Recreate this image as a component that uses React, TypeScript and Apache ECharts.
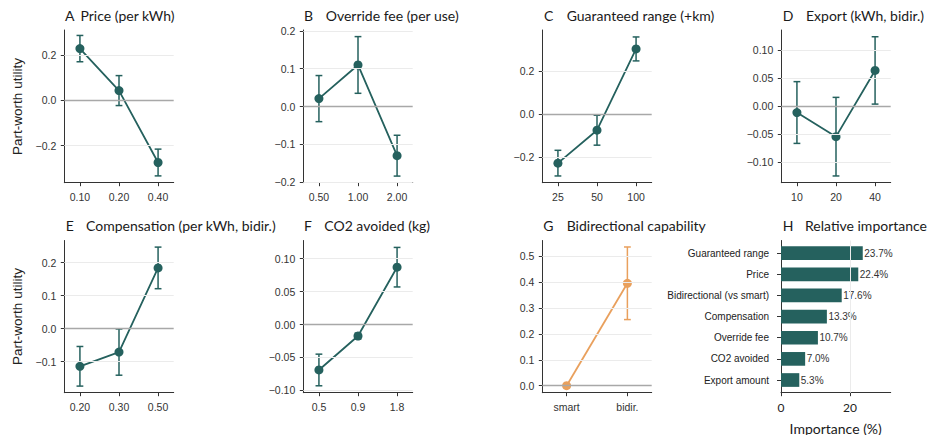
import React, { useEffect, useRef } from 'react';
import * as echarts from 'echarts';

// ---------- Data ----------
// A: Price (per kWh)
const priceCats = ['0.10', '0.20', '0.40'];
const priceVals = [0.228, 0.043, -0.274];
const priceErr = [0.058, 0.066, 0.059];
// B: Override fee (per use)
const feeCats = ['0.50', '1.00', '2.00'];
const feeVals = [0.021, 0.110, -0.130];
const feeErr = [0.061, 0.075, 0.054];
// C: Guaranteed range (+km)
const rangeCats = ['25', '50', '100'];
const rangeVals = [-0.229, -0.075, 0.305];
const rangeErr = [0.060, 0.070, 0.056];
// D: Export (kWh, bidir.)
const exportCats = ['10', '20', '40'];
const exportVals = [-0.011, -0.054, 0.064];
const exportErr = [0.055, 0.070, 0.060];
// E: Compensation (per kWh, bidir.)
const compCats = ['0.20', '0.30', '0.50'];
const compVals = [-0.114, -0.071, 0.184];
const compErr = [0.060, 0.070, 0.063];
// F: CO2 avoided (kg)
const co2Cats = ['0.5', '0.9', '1.8'];
const co2Vals = [-0.069, -0.0175, 0.087];
const co2Err = [0.024, 0.0045, 0.030];
// G: Bidirectional capability
const bidirCats = ['smart', 'bidir.'];
const bidirVals = [0.0, 0.395];
const bidirErr = [null, 0.14];
// H: Relative importance (%)
const importanceNames = ['Guaranteed range', 'Price', 'Bidirectional (vs smart)', 'Compensation', 'Override fee', 'CO2 avoided', 'Export amount'];
const importanceVals = [23.7, 22.4, 17.6, 13.3, 10.7, 7.0, 5.3];

// Y tick values per panel
const ticksA = [-0.2, 0, 0.2];
const ticksB = [-0.2, -0.1, 0, 0.1, 0.2];
const ticksC = [-0.2, 0, 0.2];
const ticksD = [-0.1, -0.05, 0, 0.05, 0.1];
const ticksE = [-0.1, 0, 0.1, 0.2];
const ticksF = [-0.1, -0.05, 0, 0.05, 0.1];
const ticksG = [0, 0.1, 0.2, 0.3, 0.4, 0.5];
const ticksHx = [0, 20];

// ---------- Styles / layout ----------
const TEAL = '#25615e';
const ORANGE = '#e9a05d';
const AXIS = '#333333';
const GRID = '#ebebeb';
const ZERO = '#a8a8a8';
const TICK_FONT = '"Liberation Sans", Arial, sans-serif';
const TITLE_FONT = 'Lato, "Open Sans", sans-serif';

const COLS = [64.3, 303.3, 542.3, 781.3];
const ROW_TOP = [30, 240.5];
const ROW_H = [152.7, 152.2];
const PW = 109.4;

const fmt = (dec: number) => (v: number) => {
  const s = Math.abs(v).toFixed(dec);
  return v < -1e-9 ? '\u2212' + s : s;
};

type Panel = {
  letter: string; title: string; cats: string[]; vals: number[]; err: (number | null)[];
  ylim: [number, number]; ticks: number[]; dec: number; col: number; row: number;
  color: string; letterX: number; titleX: number;
};

const panels: Panel[] = [
  { letter: 'A', title: 'Price (per kWh)', cats: priceCats, vals: priceVals, err: priceErr, ylim: [-0.363, 0.31], ticks: ticksA, dec: 1, col: 0, row: 0, color: TEAL, letterX: 65, titleX: 80.5 },
  { letter: 'B', title: 'Override fee (per use)', cats: feeCats, vals: feeVals, err: feeErr, ylim: [-0.2015, 0.2025], ticks: ticksB, dec: 1, col: 1, row: 0, color: TEAL, letterX: 304, titleX: 325.7 },
  { letter: 'C', title: 'Guaranteed range (+km)', cats: rangeCats, vals: rangeVals, err: rangeErr, ylim: [-0.3205, 0.3935], ticks: ticksC, dec: 1, col: 2, row: 0, color: TEAL, letterX: 544, titleX: 566.7 },
  { letter: 'D', title: 'Export (kWh, bidir.)', cats: exportCats, vals: exportVals, err: exportErr, ylim: [-0.136, 0.136], ticks: ticksD, dec: 2, col: 3, row: 0, color: TEAL, letterX: 782.7, titleX: 806 },
  { letter: 'E', title: 'Compensation (per kWh, bidir.)', cats: compCats, vals: compVals, err: compErr, ylim: [-0.194, 0.267], ticks: ticksE, dec: 1, col: 0, row: 1, color: TEAL, letterX: 65.7, titleX: 86 },
  { letter: 'F', title: 'CO2 avoided (kg)', cats: co2Cats, vals: co2Vals, err: co2Err, ylim: [-0.1035, 0.1275], ticks: ticksF, dec: 2, col: 1, row: 1, color: TEAL, letterX: 304, titleX: 324.3 },
  { letter: 'G', title: 'Bidirectional capability', cats: bidirCats, vals: bidirVals, err: bidirErr, ylim: [-0.027, 0.56], ticks: ticksG, dec: 1, col: 2, row: 1, color: ORANGE, letterX: 543.3, titleX: 566.7 },
];

function buildOption() {
  const grid: any[] = [];
  const xAxis: any[] = [];
  const yAxis: any[] = [];
  const series: any[] = [];
  const graphic: any[] = [];

  const tickLabel = { fontSize: 10.5, color: AXIS, fontFamily: TICK_FONT };

  panels.forEach((p, i) => {
    grid.push({ left: COLS[p.col], top: ROW_TOP[p.row], width: PW, height: ROW_H[p.row], containLabel: false, outerBoundsMode: 'none' });
    const xs = p.cats.map((_, k) => k);
    xAxis.push({
      gridIndex: i, type: 'value', min: -0.4, max: p.cats.length - 1 + 0.4,
      axisLine: { show: true, onZero: false, lineStyle: { color: AXIS, width: 1 } },
      axisTick: { show: true, customValues: xs, length: 3.5, lineStyle: { color: AXIS, width: 1 } },
      axisLabel: { show: true, customValues: xs, formatter: (v: number) => p.cats[Math.round(v)], margin: 9, ...tickLabel },
      splitLine: { show: false },
    });
    yAxis.push({
      gridIndex: i, type: 'value', min: p.ylim[0], max: p.ylim[1],
      axisLine: { show: true, onZero: false, lineStyle: { color: AXIS, width: 1 } },
      axisTick: { show: true, customValues: p.ticks, length: 3.5, lineStyle: { color: AXIS, width: 1 } },
      axisLabel: { show: true, customValues: p.ticks, formatter: fmt(p.dec), margin: 8, ...tickLabel },
      splitLine: { show: false },
    });
    const errData: number[][] = [];
    p.err.forEach((e, k) => { if (e != null) errData.push([k, p.vals[k], e]); });
    series.push({
      type: 'custom', xAxisIndex: i, yAxisIndex: i, z: 2, silent: true,
      encode: { x: 0, y: 1 },
      data: errData,
      renderItem: (params: any, api: any) => {
        const x = api.value(0), y = api.value(1), e = api.value(2);
        const t = api.coord([x, y + e]);
        const b = api.coord([x, y - e]);
        const hw = 3.4;
        const st = { stroke: p.color, lineWidth: 1.5 };
        return {
          type: 'group', children: [
            { type: 'line', shape: { x1: t[0], y1: t[1], x2: b[0], y2: b[1] }, style: st },
            { type: 'line', shape: { x1: t[0] - hw, y1: t[1], x2: t[0] + hw, y2: t[1] }, style: st },
            { type: 'line', shape: { x1: b[0] - hw, y1: b[1], x2: b[0] + hw, y2: b[1] }, style: st },
          ],
        };
      },
      markLine: {
        silent: true, symbol: 'none', label: { show: false }, animation: false,
        data: p.ticks.map((t) => ({ yAxis: t, lineStyle: { color: t === 0 ? ZERO : GRID, width: t === 0 ? 1.4 : 1, type: 'solid' } })),
      },
    });
    series.push({
      type: 'line', xAxisIndex: i, yAxisIndex: i, z: 3, silent: true,
      data: p.vals.map((v, k) => [k, v]),
      symbol: 'circle', symbolSize: 9, showSymbol: true,
      lineStyle: { color: p.color, width: 1.8 },
      itemStyle: { color: p.color },
    });
    const ty = p.row === 0 ? 15 : 225;
    graphic.push({ type: 'text', x: p.letterX, y: ty, style: { text: p.letter, fontSize: 14, fontFamily: TITLE_FONT, fill: '#1a1a1a', align: 'left', verticalAlign: 'middle' } });
    graphic.push({ type: 'text', x: p.titleX, y: ty, style: { text: p.title, fontSize: 14, fontFamily: TITLE_FONT, fill: '#1a1a1a', align: 'left', verticalAlign: 'middle' } });
  });

  // Panel H
  const hi = panels.length;
  grid.push({ left: 781, top: ROW_TOP[1], width: 109.7, height: ROW_H[1], containLabel: false, outerBoundsMode: 'none' });
  xAxis.push({
    gridIndex: hi, type: 'value', min: 0, max: 31.8,
    axisLine: { show: true, onZero: false, lineStyle: { color: AXIS, width: 1 } },
    axisTick: { show: true, customValues: ticksHx, length: 3.5, lineStyle: { color: AXIS } },
    axisLabel: { show: true, customValues: ticksHx, margin: 9, fontSize: 12, color: '#222', fontFamily: TITLE_FONT },
    splitLine: { show: false },
  });
  const idx = importanceNames.map((_, k) => k);
  yAxis.push({
    gridIndex: hi, type: 'value', min: -0.6, max: 6.6, inverse: true,
    axisLine: { show: true, onZero: false, lineStyle: { color: AXIS, width: 1 } },
    axisTick: { show: true, customValues: idx, length: 4, lineStyle: { color: AXIS } },
    axisLabel: { show: true, customValues: idx, formatter: (v: number) => importanceNames[Math.round(v)], margin: 12, fontSize: 10, color: '#222', fontFamily: TICK_FONT },
    splitLine: { show: false },
  });
  series.push({
    type: 'custom', xAxisIndex: hi, yAxisIndex: hi, z: 2, silent: true,
    encode: { x: 0, y: 1 },
    data: importanceVals.map((v, k) => [v, k]),
    renderItem: (params: any, api: any) => {
      const v = api.value(0), k = api.value(1);
      const p0 = api.coord([0, k]);
      const p1 = api.coord([v, k]);
      const h = 13.7;
      return {
        type: 'group', children: [
          { type: 'rect', shape: { x: p0[0], y: p0[1] - h / 2, width: p1[0] - p0[0], height: h }, style: { fill: TEAL } },
          { type: 'text', x: p1[0] + 1.5, y: p1[1], style: { text: v.toFixed(1) + '%', fontSize: 10, fontFamily: TICK_FONT, fill: '#333', align: 'left', verticalAlign: 'middle' } },
        ],
      };
    },
    markLine: {
      silent: true, symbol: 'none', label: { show: false }, animation: false,
      data: [{ xAxis: 20, lineStyle: { color: GRID, width: 1, type: 'solid' } }],
    },
  });
  graphic.push({ type: 'text', x: 782.7, y: 225, style: { text: 'H', fontSize: 14, fontFamily: TITLE_FONT, fill: '#1a1a1a', align: 'left', verticalAlign: 'middle' } });
  graphic.push({ type: 'text', x: 805, y: 225, style: { text: 'Relative importance', fontSize: 14, fontFamily: TITLE_FONT, fill: '#1a1a1a', align: 'left', verticalAlign: 'middle' } });
  graphic.push({ type: 'text', x: 835.7, y: 428, style: { text: 'Importance (%)', fontSize: 14, fontFamily: TITLE_FONT, fill: '#1a1a1a', align: 'center', verticalAlign: 'middle' } });

  // Y axis names
  [106.5, 316.5].forEach((cy) => {
    graphic.push({ type: 'text', x: 17, y: cy, rotation: Math.PI / 2, style: { text: 'Part-worth utility', fontSize: 13.5, fontFamily: TICK_FONT, fill: '#222', align: 'center', verticalAlign: 'middle' } });
  });

  return { animation: false, backgroundColor: '#ffffff', grid, xAxis, yAxis, series, graphic };
}

export default function App() {
  const ref = useRef<HTMLDivElement>(null);
  useEffect(() => {
    if (!ref.current) return;
    const chart = echarts.init(ref.current, undefined, { renderer: 'svg' });
    chart.setOption(buildOption() as any);
    return () => chart.dispose();
  }, []);
  return <div ref={ref} style={{ position: 'fixed', left: 0, top: 0, width: 932, height: 435, background: '#fff' }} />;
}
